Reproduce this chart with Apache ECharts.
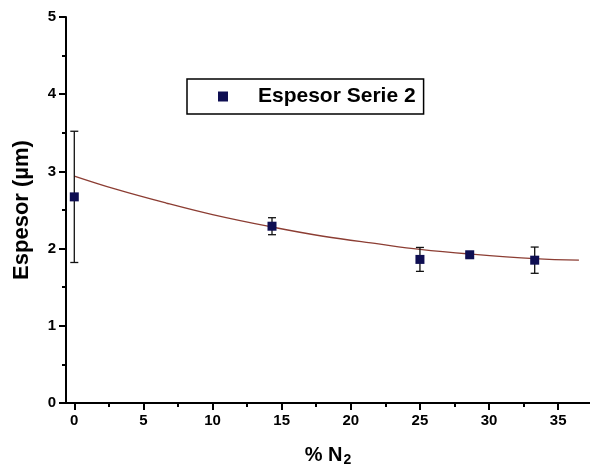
<!DOCTYPE html>
<html>
<head>
<meta charset="utf-8">
<script src="https://cdn.jsdelivr.net/npm/echarts@6/dist/echarts.min.js"></script>
<style>
  html, body { margin: 0; padding: 0; background: #fff; }
  #chart { width: 590px; height: 472px; }
</style>
</head>
<body>
<div id="chart"></div>
<script>
// datos
const xN2 = [0, 14.3, 25, 28.6, 33.3];
const espesor = [2.67, 2.29, 1.86, 1.92, 1.85];
const errEspesor = [0.85, 0.11, 0.155, 0.03, 0.17];

// curva de ajuste (leida punto a punto)
const ajusteX = [0, 3, 6.65, 10, 14, 18, 22, 25, 28.6, 33.3, 36.5];
const ajusteY = [2.94, 2.77, 2.59, 2.44, 2.29, 2.16, 2.06, 1.99, 1.93, 1.87, 1.85];

const xTicks = [0, 5, 10, 15, 20, 25, 30, 35];
const xMinorTicks = [2.5, 7.5, 12.5, 17.5, 22.5, 27.5, 32.5];

const font = '"Liberation Sans", Arial, sans-serif';

const myChart = echarts.init(document.getElementById('chart'));

const option = {
  animation: false,
  backgroundColor: '#fff',
  textStyle: { fontFamily: font },
  grid: { left: 66, right: 0, top: 17, bottom: 63, containLabel: false },
  legend: {
    data: ['Espesor Serie 2'],
    left: 187,
    top: 79,
    orient: 'horizontal',
    icon: 'rect',
    itemWidth: 10,
    itemHeight: 10,
    padding: [7, 8, 7, 31],
    borderColor: '#000',
    borderWidth: 1.5,
    textStyle: {
      fontFamily: font,
      fontSize: 21,
      fontWeight: 'bold',
      color: '#000',
      padding: [0, 0, 0, 25]
    }
  },
  xAxis: [
    {
      type: 'value',
      min: -0.6,
      max: 37.3,
      name: '% N{sub|2}',
      nameLocation: 'middle',
      nameGap: 40,
      nameTextStyle: {
        fontFamily: font,
        fontSize: 20,
        fontWeight: 'bold',
        color: '#000',
        rich: {
          sub: { fontSize: 14, fontWeight: 'bold', verticalAlign: 'bottom', padding: [10, 0, 0, 1], fontFamily: font }
        }
      },
      axisLine: { onZero: false, lineStyle: { color: '#000', width: 2 } },
      axisTick: { show: true, inside: false, length: 7, lineStyle: { color: '#000', width: 2 }, customValues: xTicks },
      axisLabel: { customValues: xTicks, color: '#000', fontSize: 15, fontWeight: 'bold', margin: 10, fontFamily: font },
      splitLine: { show: false }
    },
    {
      type: 'value',
      min: -0.6,
      max: 37.3,
      position: 'bottom',
      axisLine: { show: false, onZero: false },
      axisTick: { show: true, length: 4, lineStyle: { color: '#000', width: 2 }, customValues: xMinorTicks },
      axisLabel: { show: false },
      splitLine: { show: false }
    }
  ],
  yAxis: {
    type: 'value',
    min: 0,
    max: 5,
    interval: 1,
    name: 'Espesor (µm)',
    nameLocation: 'middle',
    nameGap: 33,
    nameTextStyle: { fontFamily: font, fontSize: 22, fontWeight: 'bold', color: '#000' },
    axisLine: { show: true, onZero: false, lineStyle: { color: '#000', width: 2 } },
    axisTick: { show: true, length: 7, lineStyle: { color: '#000', width: 2 } },
    minorTick: { show: true, splitNumber: 2, length: 4, lineStyle: { color: '#000', width: 2 } },
    axisLabel: { color: '#000', fontSize: 15, fontWeight: 'bold', margin: 10, fontFamily: font },
    splitLine: { show: false },
    minorSplitLine: { show: false }
  },
  series: [
    {
      name: 'Ajuste',
      type: 'line',
      smooth: 0.4,
      showSymbol: false,
      lineStyle: { color: '#8c3d33', width: 1.3 },
      data: ajusteX.map((x, i) => [x, ajusteY[i]]),
      z: 2
    },
    {
      name: 'error',
      type: 'custom',
      data: xN2.map((x, i) => [x, espesor[i] - errEspesor[i], espesor[i] + errEspesor[i]]),
      renderItem: function (params, api) {
        const lo = api.coord([api.value(0), api.value(1)]);
        const hi = api.coord([api.value(0), api.value(2)]);
        const w = 4;
        const st = { stroke: '#111', lineWidth: 1.3 };
        return {
          type: 'group',
          children: [
            { type: 'line', shape: { x1: lo[0], y1: lo[1], x2: hi[0], y2: hi[1] }, style: st },
            { type: 'line', shape: { x1: lo[0] - w, y1: lo[1], x2: lo[0] + w, y2: lo[1] }, style: st },
            { type: 'line', shape: { x1: hi[0] - w, y1: hi[1], x2: hi[0] + w, y2: hi[1] }, style: st }
          ]
        };
      },
      z: 3
    },
    {
      name: 'Espesor Serie 2',
      type: 'scatter',
      symbol: 'rect',
      symbolSize: 9,
      itemStyle: { color: '#0e0e52', opacity: 1 },
      data: xN2.map((x, i) => [x, espesor[i]]),
      z: 4
    }
  ]
};

myChart.setOption(option);
</script>
</body>
</html>
